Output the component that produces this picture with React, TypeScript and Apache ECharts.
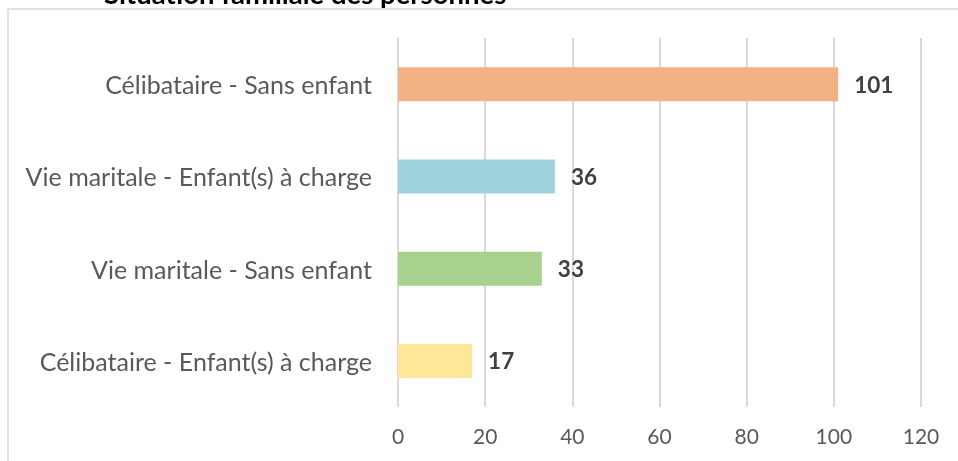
import React, { useEffect, useRef } from "react";
import * as echarts from "echarts";

const categories = [
  "Célibataire - Sans enfant",
  "Vie maritale - Enfant(s) à charge",
  "Vie maritale - Sans enfant",
  "Célibataire - Enfant(s) à charge",
];
const values = [101, 36, 33, 17];
const colors = ["#F4B183", "#9FD3DD", "#A9D18E", "#FFE699"];
const title = "Situation familiale des personnes";

export default function App() {
  const ref = useRef<HTMLDivElement>(null);
  useEffect(() => {
    if (!ref.current) return;
    const chart = echarts.init(ref.current, undefined, { renderer: "svg" });
    chart.setOption({
      animation: false,
      graphic: [
        {
          type: "rect",
          shape: { x: 8, y: 9, width: 1000, height: 500 },
          style: { fill: "none", stroke: "#D9D9D9", lineWidth: 1.5 },
        },
        {
          type: "text",
          x: 104,
          y: 7,
          style: {
            text: title,
            fontFamily: "Lato",
            fontWeight: "bold",
            fontSize: 27.5,
            fill: "#000",
            verticalAlign: "bottom",
            textVerticalAlign: "bottom",
          },
        },
      ],
      grid: { left: 398, right: 37, top: 38, bottom: 54 },
      xAxis: {
        type: "value",
        min: 0,
        max: 120,
        interval: 20,
        axisLine: { show: false },
        axisTick: { show: false },
        splitLine: { lineStyle: { color: "#D9D9D9", width: 2 } },
        axisLabel: { color: "#595959", fontFamily: "Lato", fontSize: 21, margin: 18 },
      },
      yAxis: {
        type: "category",
        inverse: true,
        data: categories,
        axisLine: { show: false },
        axisTick: { show: false },
        axisLabel: { color: "#595959", fontFamily: "Lato", fontSize: 25, margin: 26 },
      },
      series: [
        {
          type: "bar",
          barWidth: 34,
          data: values.map((v, i) => ({ value: v, itemStyle: { color: colors[i] } })),
          label: {
            show: true,
            position: "right",
            distance: 16,
            color: "#404040",
            fontFamily: "Lato",
            fontWeight: "bold",
            fontSize: 22.5,
          },
        },
      ],
    });
    return () => chart.dispose();
  }, []);
  return <div ref={ref} style={{ position: "fixed", left: 0, top: 0, width: 958, height: 461 }} />;
}
